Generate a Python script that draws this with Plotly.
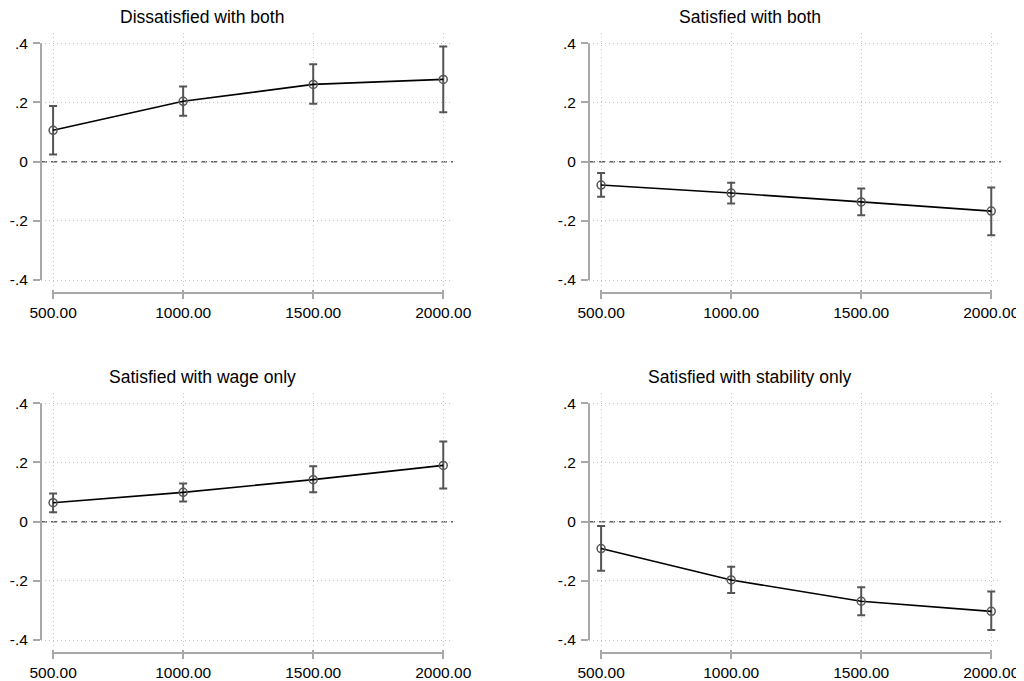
import plotly.graph_objects as go

# The page body adds an 8px margin at top/left; the figure starts there and
# reaches the right and bottom edges of the window.
OFF = 8
W, H = 1024 - OFF, 681 - OFF

x_vals = [500, 1000, 1500, 2000]
x_ticktext = ["500.00", "1000.00", "1500.00", "2000.00"]
y_tickvals = [-0.4, -0.2, 0, 0.2, 0.4]
y_ticktext = ["-.4", "-.2", "0", ".2", ".4"]

titles = ["Dissatisfied with both", "Satisfied with both",
          "Satisfied with wage only", "Satisfied with stability only"]

est_dis_both = [0.106, 0.204, 0.261, 0.278]
lo_dis_both = [0.024, 0.155, 0.196, 0.167]
hi_dis_both = [0.188, 0.254, 0.329, 0.389]

est_sat_both = [-0.079, -0.106, -0.136, -0.167]
lo_sat_both = [-0.119, -0.141, -0.181, -0.249]
hi_sat_both = [-0.038, -0.071, -0.091, -0.087]

est_wage = [0.064, 0.099, 0.142, 0.190]
lo_wage = [0.032, 0.068, 0.099, 0.112]
hi_wage = [0.095, 0.129, 0.187, 0.271]

est_stab = [-0.091, -0.197, -0.269, -0.303]
lo_stab = [-0.166, -0.241, -0.316, -0.366]
hi_stab = [-0.015, -0.152, -0.222, -0.236]

panels = [
    (est_dis_both, lo_dis_both, hi_dis_both),
    (est_sat_both, lo_sat_both, hi_sat_both),
    (est_wage, lo_wage, hi_wage),
    (est_stab, lo_stab, hi_stab),
]

# target pixel boxes (window coords) of plot regions: (left, right, top, bottom)
boxes = [(41, 453, 33, 289), (589, 1001, 33, 289),
         (41, 453, 393, 649), (589, 1001, 393, 649)]
xaxis_line_py = [293, 293, 653, 653]
title_pos = [(202, 17), (750, 17), (202, 377), (750, 377)]

x_range = [453.5, 2037.5]
y_range = [-0.4303, 0.4347]

FONT = "Liberation Sans, Arial, Helvetica, sans-serif"
GRAY = "#555555"
AXIS_GRAY = "#a8a8a8"
TICK_SIZE = 15.5
TITLE_SIZE = 17.5


def px(x):
    return (x - OFF) / W


def py(y):
    return 1 - (y - OFF) / H


fig = go.Figure()
layout = dict(width=W, height=H, margin=dict(l=0, r=0, t=0, b=0, autoexpand=False),
              paper_bgcolor="white", plot_bgcolor="white", showlegend=False,
              font=dict(family=FONT, size=TICK_SIZE, color="black"))
shapes = []
annotations = []

for i, ((est, lo, hi), (l, r, t, b)) in enumerate(zip(panels, boxes)):
    n = "" if i == 0 else str(i + 1)
    xa, ya = "x" + n, "y" + n
    fig.add_trace(go.Scatter(
        x=x_vals, y=est, xaxis=xa, yaxis=ya, mode="lines+markers",
        line=dict(color="black", width=1.6),
        marker=dict(symbol="circle-open", size=8, color=GRAY, line=dict(width=1.5, color=GRAY)),
        error_y=dict(type="data", symmetric=False,
                     array=[h - e for h, e in zip(hi, est)],
                     arrayminus=[e - q for e, q in zip(est, lo)],
                     color=GRAY, thickness=2, width=4),
    ))
    layout["xaxis" + n] = dict(
        domain=[px(l), px(r)], range=x_range, anchor=ya,
        tickvals=x_vals, ticktext=x_ticktext, ticks="outside", ticklen=9,
        tickcolor=AXIS_GRAY, tickwidth=1.5, ticklabelstandoff=0,
        showgrid=True, gridcolor="#c4c4c4", griddash="1px,3px", gridwidth=1,
        showline=False, zeroline=False, automargin=False,
        tickfont=dict(family=FONT, size=TICK_SIZE, color="black"))
    layout["yaxis" + n] = dict(
        domain=[py(b), py(t)], range=y_range, anchor=xa,
        tickvals=y_tickvals, ticktext=y_ticktext, ticks="outside", ticklen=7,
        tickcolor=AXIS_GRAY, tickwidth=1.5, ticklabelstandoff=2,
        showgrid=True, gridcolor="#c4c4c4", griddash="1px,3px", gridwidth=1,
        showline=False, zeroline=False, automargin=False,
        tickfont=dict(family=FONT, size=TICK_SIZE, color="black"))
    # y-axis line from -.4 to .4
    shapes.append(dict(type="line", xref=xa + " domain", yref=ya,
                       x0=0, x1=0, y0=-0.4, y1=0.4,
                       line=dict(color=AXIS_GRAY, width=2)))
    # x-axis line from 500 to 2000, slightly below plot region
    yl = py(xaxis_line_py[i])
    shapes.append(dict(type="line", xref=xa, yref="paper",
                       x0=500, x1=2000, y0=yl, y1=yl,
                       line=dict(color=AXIS_GRAY, width=2)))
    # dashed zero line
    shapes.append(dict(type="line", xref=xa + " domain", yref=ya,
                       x0=0, x1=1, y0=0, y1=0, layer="below",
                       line=dict(color="#606060", width=1.5, dash="6px,4px")))
    tx, ty = title_pos[i]
    annotations.append(dict(text=titles[i], x=px(tx), y=py(ty),
                            xref="paper", yref="paper", showarrow=False,
                            xanchor="center", yanchor="middle",
                            font=dict(family=FONT, size=TITLE_SIZE, color="black")))

layout["shapes"] = shapes
layout["annotations"] = annotations
fig.update_layout(**layout)
fig.write_html("out.html")
